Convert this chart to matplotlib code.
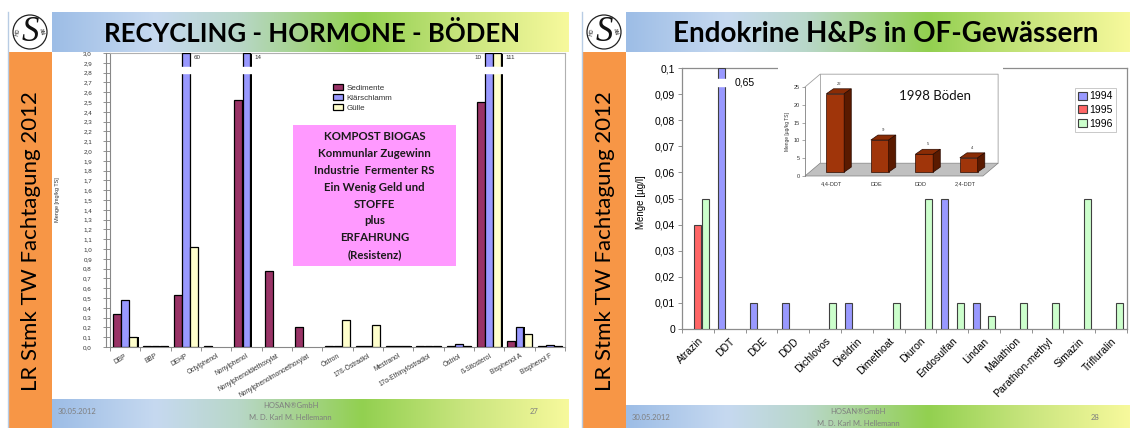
import numpy as np
import matplotlib
matplotlib.use("Agg")
import matplotlib.pyplot as plt
from matplotlib.colors import LinearSegmentedColormap
from matplotlib.patches import Rectangle, Circle, Polygon
from matplotlib.lines import Line2D

# ---------------- data ----------------
cats_L = ["DBP", "BBP", "DEHP", "Octylphenol", "Nonylphenol", "Nonylphenoldiethoxylat",
          "Nonylphenolmonoethoxylat", "Östron", "17ß-Östradiol", "Mestranol",
          "17α-Ethinylöstradiol", "Östriol", "ß-Sitosterol", "Bisphenol A", "Bisphenol F"]
sedimente = [0.34, 0.006, 0.53, 0.006, 2.52, 0.78, 0.20, 0.006, 0.01, 0.006, 0.006, 0.006, 2.50, 0.06, 0.01]
klaerschlamm = [0.48, 0.006, 60, 0, 14, 0, 0, 0.006, 0.01, 0.006, 0.006, 0.03, 10, 0.20, 0.02]
guelle = [0.10, 0.006, 1.02, 0, 0, 0, 0, 0.28, 0.22, 0.006, 0.006, 0.006, 111, 0.13, 0.01]
series_L = ["Sedimente", "Klärschlamm", "Gülle"]

cats_R = ["Atrazin", "DDT", "DDE", "DDD", "Dichlovos", "Dieldrin", "Dimethoat", "Diuron",
          "Endosulfan", "Lindan", "Malathion", "Parathion-methyl", "Simazin", "Trifluralin"]
y1994 = [0, 0.65, 0.01, 0.01, 0, 0.01, 0, 0, 0.05, 0.01, 0, 0, 0, 0]
y1995 = [0.04, 0, 0, 0, 0, 0, 0, 0, 0, 0, 0, 0, 0, 0]
y1996 = [0.05, 0, 0, 0, 0.01, 0, 0.01, 0.05, 0.01, 0.005, 0.01, 0.01, 0.05, 0.01]
series_R = ["1994", "1995", "1996"]

cats_I = ["4,4-DDT", "DDE", "DDD", "2,4-DDT"]
vals_I = [22, 9, 5, 4]

box_lines = ["KOMPOST BIOGAS", "Kommunlar Zugewinn", "Industrie  Fermenter RS",
             "Ein Wenig Geld und", "STOFFE", "plus", "ERFAHRUNG", "(Resistenz)"]

# ---------------- helpers ----------------
W, H = 1130, 428
fig = plt.figure(figsize=(11.3, 4.28), dpi=100)
fig.patch.set_facecolor("white")


def box(x0, y0, x1, y1):
    return [x0 / W, 1 - y1 / H, (x1 - x0) / W, (y1 - y0) / H]


def fx(x):
    return x / W


def fy(y):
    return 1 - y / H


grad = LinearSegmentedColormap.from_list(
    "g", [(0, "#9DBDE6"), (0.2, "#C6D9F0"), (0.36, "#B8D7C8"), (0.6, "#92D050"),
          (0.8, "#C9E57E"), (1.0, "#F7F99C")])


def gradient(x0, y0, x1, y1):
    a = fig.add_axes(box(x0, y0, x1, y1))
    a.imshow(np.linspace(0, 1, 256)[None, :], cmap=grad, aspect="auto", extent=[0, 1, 0, 1])
    a.set_axis_off()
    return a


def logo(x0):
    a = fig.add_axes(box(x0, 12, x0 + 44, 52))
    a.set_xlim(0, 44)
    a.set_ylim(40, 0)
    a.set_xticks([])
    a.set_yticks([])
    for s in a.spines.values():
        s.set_visible(False)
    a.add_patch(Circle((22, 20), 17, fill=False, ec="#222222", lw=0.9))
    a.text(22, 20.5, "S", fontsize=25, ha="center", va="center", family="Liberation Serif",
           style="italic", color="#111111")
    a.text(10, 20, "HO", fontsize=3.5, ha="center", va="center", rotation=80)
    a.text(34, 20, "AN", fontsize=3.5, ha="center", va="center", rotation=-70)


def slide(x0, x1, title, title_cx, title_fs, page, footer_top):
    fig.add_artist(Line2D([fx(x0), fx(x0)], [fy(12), fy(428)], color="#B8CCE4", lw=1))
    fig.add_artist(Rectangle((fx(x0), fy(428)), 44 / W, (428 - 52) / H,
                             transform=fig.transFigure, color="#F79646", lw=0))
    fig.text(fx(x0 + 23), fy(241), "LR Stmk TW Fachtagung 2012", rotation=90, ha="center",
             va="center", fontsize=16, family="Lato")
    gradient(x0 + 44, 12, x1, 52)
    fig.text(fx(title_cx), fy(34), title, ha="center", va="center", fontsize=title_fs,
             weight="bold", family="Lato")
    gradient(x0 + 44, footer_top, x1, 428)
    fig.text(fx(x0 + 50), fy(footer_top + 13), "30.05.2012", fontsize=5.5, color="#7F7F7F",
             va="center", family="Lato")
    cx = (x0 + 44 + x1) / 2 - 20
    fig.text(fx(cx), fy(footer_top + 7), "HOSAN\u00aeGmbH", fontsize=5.5, color="#7F7F7F",
             ha="center", va="center", family="Lato")
    fig.text(fx(cx), fy(footer_top + 19), "M. D. Karl M. Hellemann", fontsize=5.5,
             color="#7F7F7F", ha="center", va="center", family="Lato")
    fig.text(fx(x1 - 35), fy(footer_top + 13), page, fontsize=5.5, color="#7F7F7F",
             ha="center", va="center", family="Lato")
    logo(x0)


slide(8, 569, "RECYCLING - HORMONE - BÖDEN", 312, 18.5, "27", 399)
slide(582, 1130, "Endokrine H&Ps in OF-Gewässern", 886, 20, "28", 405)

# ---------------- left chart ----------------
axL = fig.add_axes(box(110, 53, 565, 347))
nL = len(cats_L)
xL = np.arange(nL)
wL = 0.26
ymaxL = 3.0
colsL = ["#993366", "#9999FF", "#FFFFCC"]
offsL = [-0.27, 0.0, 0.27]
dataL = [np.array(sedimente, float), np.array(klaerschlamm, float), np.array(guelle, float)]
handles = []
for k, (vals, c, off, lab) in enumerate(zip(dataL, colsL, offsL, series_L)):
    m = vals > 0
    shown = np.minimum(vals, ymaxL)
    axL.bar(xL[m] + off + 0.045, shown[m], wL, color="black", zorder=2)
    h = axL.bar(xL[m] + off, shown[m], wL, color=c, edgecolor="black", lw=0.9, label=lab,
                zorder=3)
    handles.append(h)
    for i in np.where(vals > ymaxL)[0]:
        axL.add_patch(Rectangle((i + off - wL / 2 - 0.05, 2.80), wL + 0.15, 0.055,
                                color="white", zorder=4))
        nxt_broken = k + 1 < len(dataL) and dataL[k + 1][i] > ymaxL
        if nxt_broken:
            axL.text(i + off - wL / 2 - 0.12, 2.95, f"{vals[i]:g}", fontsize=4.5, ha="right",
                     va="center", color="#333333", family="Liberation Sans")
        else:
            axL.text(i + off + wL / 2 + 0.14, 2.95, f"{vals[i]:g}", fontsize=4.5, ha="left",
                     va="center", color="#333333", family="Liberation Sans")

axL.set_xlim(-0.5, nL - 0.5)
axL.set_ylim(0, ymaxL)
ytL = np.round(np.arange(0, 3.01, 0.1), 1)
axL.set_yticks(ytL)
axL.set_yticklabels([f"{t:.1f}".replace(".", ",") for t in ytL], fontsize=4.5,
                    family="Liberation Sans", color="#333333")
axL.tick_params(axis="y", length=5, width=0.5, color="#666666", pad=8)
axL.set_xticks(xL)
axL.set_xticklabels(cats_L, rotation=30, ha="right", rotation_mode="anchor", fontsize=4.8,
                    family="Liberation Sans", color="#333333")
axL.tick_params(axis="x", length=0, pad=4)
axL.set_xticks(np.arange(-0.5, nL, 1), minor=True)
axL.tick_params(axis="x", which="minor", length=3, width=0.5, color="#666666")
for s in ["top", "right"]:
    axL.spines[s].set_color("#B0B0B0")
    axL.spines[s].set_linewidth(0.8)
axL.spines["left"].set_color("#888888")
axL.spines["bottom"].set_color("#888888")
fig.add_artist(Line2D([fx(106), fx(106)], [fy(347), fy(53)], color="#888888", lw=0.8))
fig.text(fx(58), fy(200), "Menge [mg/kg TS]", rotation=90, fontsize=4, ha="center",
         va="center", family="Liberation Sans", color="#333333")
leg = axL.legend(handles=handles, loc="upper left", bbox_to_anchor=(0.49, 0.895),
                 frameon=False, handlelength=1.3, handleheight=0.8,
                 handletextpad=0.4, labelspacing=0.25, borderpad=0, borderaxespad=0,
                 prop={"family": "Liberation Sans", "size": 5.8})
for t in leg.get_texts():
    t.set_color("#333333")

# pink box
fig.add_artist(Rectangle((fx(293), fy(266)), (456 - 293) / W, (266 - 125) / H,
                         transform=fig.transFigure, color="#FF99FF", lw=0, zorder=5))
for j, line in enumerate(box_lines):
    fig.text(fx(374.5), fy(137 + j * 16.8), line, ha="center", va="center", fontsize=8.2,
             weight="bold", family="Lato", color="#1A1A1A", zorder=6)

# ---------------- right chart ----------------
axR = fig.add_axes(box(682, 68, 1127, 329))
nR = len(cats_R)
xR = np.arange(nR)
wR = 0.22
ymaxR = 0.1
colsR = ["#9999FF", "#FF6666", "#CCFFCC"]
offsR = [-0.25, 0.0, 0.25]
dataR = [np.array(y1994, float), np.array(y1995, float), np.array(y1996, float)]
hR = []
for vals, c, off, lab in zip(dataR, colsR, offsR, series_R):
    m = vals > 0
    shown = np.minimum(vals, ymaxR)
    h = axR.bar(xR[m] + off, shown[m], wR, color=c, edgecolor="#404040", lw=0.8, label=lab,
                zorder=3)
    hR.append(h)
    for i in np.where(vals > ymaxR)[0]:
        axR.add_patch(Rectangle((i + off - wR / 2 - 0.05, 0.0932), wR + 0.1, 0.0026,
                                color="white", zorder=4))
        axR.text(i + off + wR / 2 + 0.3, 0.0945, f"{vals[i]:.2f}".replace(".", ","),
                 fontsize=7.5, ha="left", va="center", family="Liberation Sans")

axR.set_xlim(-0.5, nR - 0.5)
axR.set_ylim(0, ymaxR)
ytR = np.round(np.arange(0, 0.1001, 0.01), 2)
axR.set_yticks(ytR)
axR.set_yticklabels([f"{t:g}".replace(".", ",") for t in ytR], fontsize=7.5,
                    family="Liberation Sans")
axR.tick_params(axis="y", length=3, width=0.6, color="#808080", pad=2)
axR.set_xticks(xR)
axR.set_xticklabels(cats_R, rotation=45, ha="right", rotation_mode="anchor", fontsize=7.5,
                    family="Liberation Sans")
axR.tick_params(axis="x", length=0, pad=5)
axR.set_xticks(np.arange(-0.5, nR, 1), minor=True)
axR.tick_params(axis="x", which="minor", length=3, width=0.6, color="#808080")
for s in axR.spines.values():
    s.set_color("#8C8C8C")
    s.set_linewidth(0.9)
fig.text(fx(641), fy(202), "Menge [µg/l]", rotation=90, fontsize=7, ha="center",
         va="center", family="Liberation Sans")
legR = axR.legend(handles=hR, loc="upper right", bbox_to_anchor=(0.975, 0.923),
                  fancybox=False, edgecolor="#C0C0C0", framealpha=1, handlelength=0.8,
                  handleheight=0.8, handletextpad=0.25, labelspacing=0.35, borderpad=0.3,
                  borderaxespad=0, prop={"family": "Liberation Sans", "size": 7.5})
legR.get_frame().set_linewidth(0.6)

# ---------------- inset (1998 Böden) ----------------
axBg = fig.add_axes(box(778, 62, 1003, 193))
axBg.set_xticks([])
axBg.set_yticks([])
for s in axBg.spines.values():
    s.set_visible(False)
axBg.set_facecolor("white")

axI = fig.add_axes(box(805, 87, 983, 176))
axI.set_facecolor("none")
xmin, xmax = -0.58, 3.42
axI.set_xlim(xmin, xmax)
axI.set_ylim(0, 25)
fdx, fdy = 0.34, 3.6
axI.add_patch(Polygon([(xmin, 0), (xmax, 0), (xmax + fdx, fdy), (xmin + fdx, fdy)],
                      closed=True, fc="#C0C0C0", ec="#808080", lw=0.5, clip_on=False, zorder=1))
axI.plot([xmin, xmin + fdx, xmax + fdx, xmax + fdx], [25, 25 + fdy, 25 + fdy, fdy],
         color="#A0A0A0", lw=0.6, clip_on=False, zorder=1)
axI.plot([xmin + fdx, xmin + fdx], [fdy, 25 + fdy], color="#A0A0A0", lw=0.6,
         clip_on=False, zorder=1)
xI = np.arange(len(vals_I))
wI = 0.4
bdx, bdy = 0.16, 1.4
ox, oy = 0.1, 1.1
vI = np.array(vals_I, float)
axI.bar(xI + ox, vI, wI, bottom=oy, color="#A0350A", edgecolor="#2A0A00", lw=0.5, zorder=3)
for xi, v in zip(xI + ox, vI):
    l, r = xi - wI / 2, xi + wI / 2
    axI.add_patch(Polygon([(l, oy + v), (r, oy + v), (r + bdx, oy + v + bdy),
                           (l + bdx, oy + v + bdy)], closed=True, fc="#8A2C05", ec="#2A0A00",
                          lw=0.5, zorder=3, clip_on=False))
    axI.add_patch(Polygon([(r, oy), (r + bdx, oy + bdy), (r + bdx, oy + v + bdy), (r, oy + v)],
                          closed=True, fc="#5A1A00", ec="#2A0A00", lw=0.5, zorder=3,
                          clip_on=False))
    axI.text(xi + bdx / 2, oy + v + bdy + 0.8, f"{v:g}", fontsize=3, ha="center",
             va="bottom", family="Liberation Sans", color="#333333")
axI.set_xticks(xI + 0.02)
axI.set_xticklabels(cats_I, fontsize=4, family="Liberation Sans", color="#333333")
axI.tick_params(axis="x", length=0, pad=4)
axI.set_yticks([0, 5, 10, 15, 20, 25])
axI.set_yticklabels(["0", "5", "10", "15", "20", "25"], fontsize=4, family="Liberation Sans",
                    color="#333333")
axI.tick_params(axis="y", length=2, width=0.4, pad=1.5, color="#666666")
for s in ["top", "right", "bottom"]:
    axI.spines[s].set_visible(False)
axI.spines["left"].set_color("#808080")
axI.spines["left"].set_linewidth(0.6)
axI.set_ylabel("Menge [µg/kg TS]", fontsize=3.5, family="Liberation Sans", labelpad=3,
               color="#333333")
fig.text(fx(935), fy(96), "1998 Böden", fontsize=9.5, ha="center", va="center",
         family="Lato", color="#111111")

fig.savefig("out.png", dpi=100)
